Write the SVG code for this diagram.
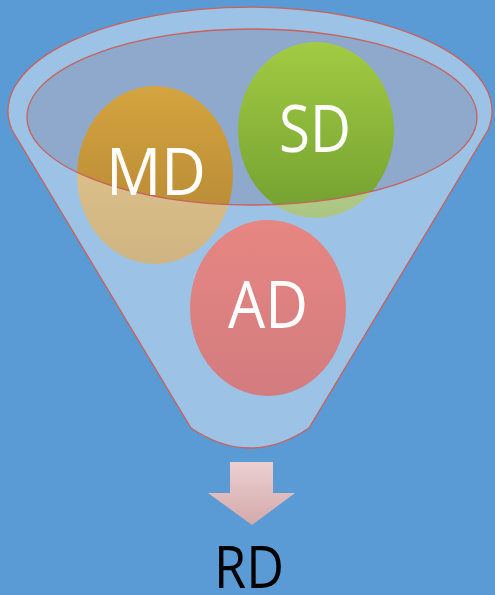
<svg xmlns="http://www.w3.org/2000/svg" width="495" height="595" viewBox="0 0 495 595">
<defs>
<linearGradient id="gMD" x1="0" y1="0" x2="0" y2="1"><stop offset="0" stop-color="#D4A43F"/><stop offset="1" stop-color="#B08332"/></linearGradient>
<linearGradient id="gSD" x1="0" y1="0" x2="0" y2="1"><stop offset="0" stop-color="#A2CB43"/><stop offset="1" stop-color="#72A030"/></linearGradient>
<linearGradient id="gAD" x1="0" y1="0" x2="0" y2="1"><stop offset="0" stop-color="#E78682"/><stop offset="1" stop-color="#D27C7F"/></linearGradient>
<linearGradient id="gArrow" x1="0" y1="0" x2="0" y2="1"><stop offset="0" stop-color="#EBD0D0"/><stop offset="1" stop-color="#D5A9AB"/></linearGradient>
</defs>
<style>
.lbl{font-family:"Open Sans","DejaVu Sans",sans-serif;font-size:65px;fill:#FFFFFF;text-anchor:middle}
.out{fill:none;stroke:#C9615C;stroke-width:1.3}
</style>
<rect width="495" height="595" fill="#5B9BD5"/>
<g id="funnel-back">
<ellipse cx="252" cy="117" rx="225" ry="88" fill="#8EA9CC"/>
</g>
<g id="MD">
<ellipse cx="155" cy="175" rx="78" ry="89" fill="url(#gMD)"/>
</g>
<g id="SD">
<ellipse cx="316" cy="130" rx="78" ry="88" fill="url(#gSD)"/>
</g>
<g id="funnel-front">
<path d="M 12,130 A 242 104 0 1 1 488,130 L 309,428 Q 250,468 191,428 Z M 27,117 A 225 88 0 1 0 477,117 A 225 88 0 1 0 27,117 Z" fill="#FFFFFF" fill-opacity="0.4" fill-rule="evenodd"/>
</g>
<g id="AD">
<ellipse cx="268" cy="308" rx="78" ry="88" fill="url(#gAD)"/>
</g>
<g id="funnel-outline">
<ellipse class="out" cx="252" cy="117" rx="225" ry="88"/>
<path class="out" d="M 12,130 A 242 104 0 1 1 488,130 L 309,428 Q 250,468 191,428 Z"/>
</g>
<text class="lbl" x="156" y="195" textLength="100" lengthAdjust="spacingAndGlyphs">MD</text>
<text class="lbl" x="315" y="152" textLength="72" lengthAdjust="spacingAndGlyphs">SD</text>
<text class="lbl" x="268" y="328" textLength="80" lengthAdjust="spacingAndGlyphs">AD</text>
<g id="connectors">
<polygon points="230,462 273,462 273,493 295,493 252,525 208,493 230,493" fill="url(#gArrow)"/>
</g>
<g id="RD">
<text x="249" y="588" font-family="Open Sans, DejaVu Sans, sans-serif" font-size="59" fill="#000000" text-anchor="middle" textLength="70" lengthAdjust="spacingAndGlyphs">RD</text>
</g>
</svg>
